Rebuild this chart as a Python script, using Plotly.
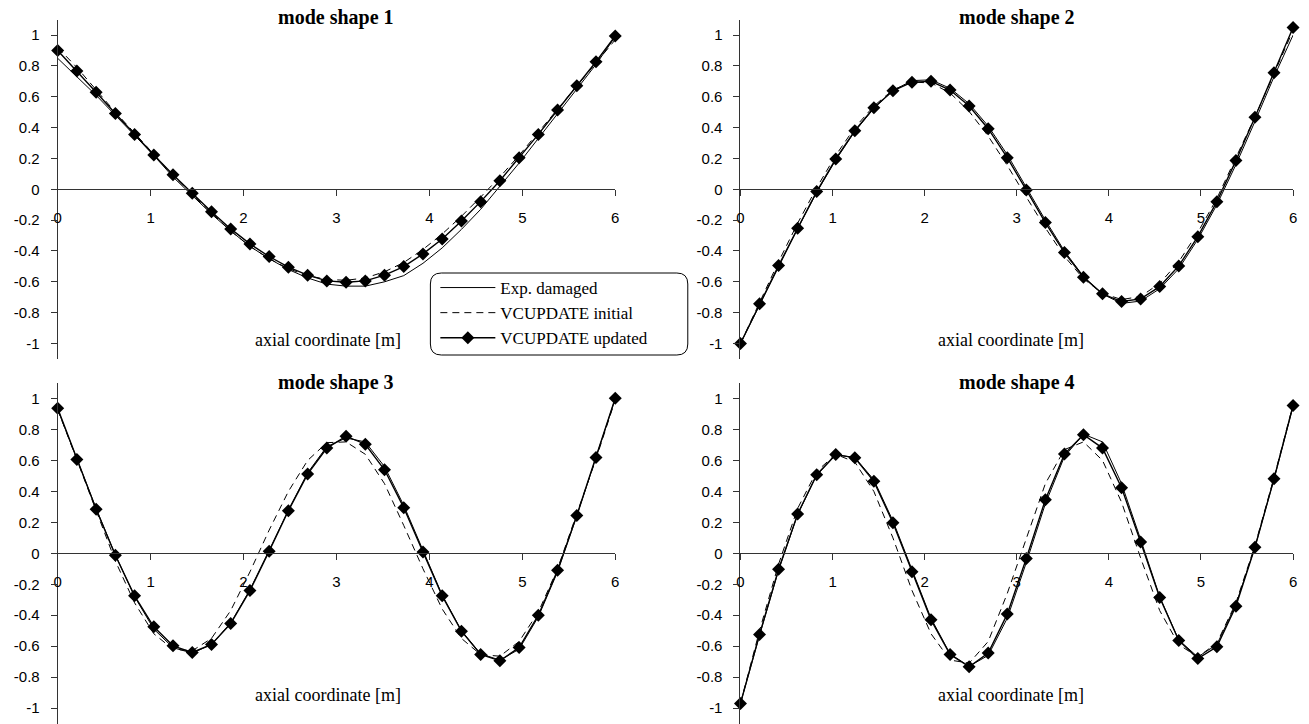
import numpy as np
import plotly.graph_objects as go

W, H = 1309, 724

x = list(np.linspace(0, 6, 30))

# mode shape 1
exp1 = [0.85, 0.73, 0.61, 0.48, 0.35, 0.22, 0.08, -0.04, -0.16, -0.27, -0.37, -0.45, -0.52, -0.575, -0.615,
        -0.628, -0.628, -0.60, -0.56, -0.48, -0.38, -0.26, -0.13, 0.02, 0.17, 0.33, 0.49, 0.65, 0.81, 0.99]
ini1 = [0.92, 0.79, 0.645, 0.50, 0.365, 0.225, 0.09, -0.035, -0.155, -0.27, -0.37, -0.45, -0.515, -0.56, -0.585,
        -0.59, -0.575, -0.535, -0.475, -0.39, -0.29, -0.175, -0.05, 0.08, 0.22, 0.37, 0.52, 0.67, 0.82, 0.97]
upd1 = [0.90, 0.767, 0.629, 0.492, 0.356, 0.222, 0.095, -0.026, -0.145, -0.257, -0.354, -0.436, -0.505, -0.557, -0.594,
        -0.603, -0.594, -0.557, -0.501, -0.419, -0.322, -0.205, -0.080, 0.056, 0.205, 0.356, 0.514, 0.672, 0.827, 0.994]

# mode shape 2
exp2 = [-1.00, -0.75, -0.50, -0.255, -0.02, 0.19, 0.375, 0.525, 0.64, 0.705, 0.71, 0.655, 0.555, 0.41, 0.225,
        0.01, -0.20, -0.40, -0.565, -0.68, -0.74, -0.725, -0.645, -0.515, -0.325, -0.10, 0.16, 0.44, 0.73, 1.00]
ini2 = [-1.00, -0.73, -0.47, -0.22, 0.01, 0.22, 0.40, 0.54, 0.645, 0.695, 0.69, 0.625, 0.505, 0.345, 0.155,
        -0.05, -0.25, -0.435, -0.58, -0.675, -0.715, -0.695, -0.61, -0.47, -0.28, -0.06, 0.20, 0.47, 0.75, 1.03]
upd2 = [-1.00, -0.743, -0.495, -0.253, -0.015, 0.197, 0.380, 0.529, 0.639, 0.695, 0.700, 0.644, 0.540, 0.393, 0.205,
        -0.004, -0.216, -0.410, -0.570, -0.678, -0.728, -0.711, -0.631, -0.497, -0.307, -0.080, 0.186, 0.467, 0.756, 1.050]

# mode shape 3
exp3 = [0.93, 0.61, 0.29, -0.01, -0.28, -0.49, -0.61, -0.645, -0.59, -0.45, -0.235, 0.02, 0.28, 0.52, 0.69,
        0.745, 0.72, 0.56, 0.31, 0.02, -0.27, -0.50, -0.65, -0.69, -0.62, -0.41, -0.12, 0.24, 0.62, 1.00]
ini3 = [0.93, 0.60, 0.27, -0.05, -0.32, -0.52, -0.62, -0.63, -0.55, -0.37, -0.12, 0.15, 0.40, 0.60, 0.715,
        0.72, 0.64, 0.45, 0.18, -0.10, -0.36, -0.55, -0.655, -0.665, -0.57, -0.38, -0.10, 0.25, 0.61, 0.99]
upd3 = [0.938, 0.606, 0.284, -0.013, -0.275, -0.475, -0.598, -0.641, -0.589, -0.454, -0.241, 0.013, 0.275, 0.512, 0.680,
        0.757, 0.705, 0.540, 0.295, 0.009, -0.275, -0.503, -0.654, -0.695, -0.609, -0.400, -0.110, 0.245, 0.619, 1.002]

# mode shape 4
exp4 = [-0.97, -0.53, -0.11, 0.25, 0.505, 0.635, 0.62, 0.475, 0.21, -0.11, -0.42, -0.65, -0.73, -0.66, -0.42,
        -0.06, 0.32, 0.625, 0.77, 0.72, 0.45, 0.09, -0.28, -0.56, -0.67, -0.59, -0.33, 0.04, 0.48, 0.95]
ini4 = [-0.97, -0.50, -0.07, 0.29, 0.53, 0.64, 0.59, 0.40, 0.10, -0.24, -0.52, -0.69, -0.71, -0.57, -0.26,
        0.10, 0.45, 0.67, 0.72, 0.60, 0.33, -0.03, -0.37, -0.59, -0.67, -0.58, -0.32, 0.05, 0.49, 0.96]
upd4 = [-0.970, -0.525, -0.103, 0.254, 0.508, 0.639, 0.617, 0.465, 0.198, -0.120, -0.430, -0.654, -0.733, -0.645, -0.393,
        -0.034, 0.346, 0.641, 0.766, 0.680, 0.424, 0.073, -0.286, -0.563, -0.680, -0.604, -0.342, 0.039, 0.482, 0.955]

titles = ["mode shape 1", "mode shape 2", "mode shape 3", "mode shape 4"]
series_names = ["Exp. damaged", "VCUPDATE initial", "VCUPDATE updated"]
xticks = [0, 1, 2, 3, 4, 5, 6]
yticks = [-1, -0.8, -0.6, -0.4, -0.2, 0, 0.2, 0.4, 0.6, 0.8, 1]
yticktext = ["-1", "-0.8", "-0.6", "-0.4", "-0.2", "0", "0.2", "0.4", "0.6", "0.8", "1"]
xlabel = "axial coordinate [m]"

data = [(exp1, ini1, upd1), (exp2, ini2, upd2), (exp3, ini3, upd3), (exp4, ini4, upd4)]

# pixel geometry
xdom_px = [(54, 615), (741, 1297), (54, 615), (741, 1297)]
ydom_px = [(19.7, 358.9), (19.7, 358.9), (383.1, 723.5), (383.1, 723.5)]

fig = go.Figure()
layout = {}
annotations = []
sans = "Liberation Sans, Arial, sans-serif"
serif = "Liberation Serif, Times New Roman, serif"
axcol = "#333333"

for k in range(4):
    ax = "" if k == 0 else str(k + 1)
    xd = [xdom_px[k][0] / W, xdom_px[k][1] / W]
    yd = [1 - ydom_px[k][1] / H, 1 - ydom_px[k][0] / H]
    layout["xaxis" + ax] = dict(
        domain=xd, range=[0, 6], anchor="free", position=(yd[0] + yd[1]) / 2,
        showline=True, linecolor=axcol, linewidth=1, ticks="outside", ticklen=6,
        tickcolor=axcol, tickvals=xticks, ticktext=[str(t) for t in xticks],
        tickfont=dict(family=sans, size=15, color="black"), showgrid=False,
        zeroline=False, ticklabelstandoff=9, fixedrange=True)
    layout["yaxis" + ax] = dict(
        domain=yd, range=[-1.1, 1.1], anchor="x" + ax, showline=True, linecolor=axcol,
        linewidth=1, ticks="outside", ticklen=6, tickcolor=axcol, tickvals=yticks,
        ticktext=yticktext, tickfont=dict(family=sans, size=15, color="black"),
        showgrid=False, zeroline=False, ticklabelstandoff=8, fixedrange=True)
    e, i, u = data[k]
    show = (k == 0)
    fig.add_trace(go.Scatter(x=x, y=e, mode="lines", name=series_names[0],
                             line=dict(color="black", width=1), showlegend=show,
                             xaxis="x" + ax, yaxis="y" + ax, cliponaxis=False))
    fig.add_trace(go.Scatter(x=x, y=i, mode="lines", name=series_names[1],
                             line=dict(color="black", width=1, dash="7px,5px"), showlegend=show,
                             xaxis="x" + ax, yaxis="y" + ax, cliponaxis=False))
    fig.add_trace(go.Scatter(x=x, y=u, mode="lines+markers", name=series_names[2],
                             line=dict(color="black", width=1.4),
                             marker=dict(symbol="diamond", size=10, color="black"),
                             showlegend=show, xaxis="x" + ax, yaxis="y" + ax, cliponaxis=False))
    cx = (xdom_px[k][0] + xdom_px[k][1]) / 2 / W
    ty = 18 if k < 2 else 382
    annotations.append(dict(text="<b>" + titles[k] + "</b>", x=cx, y=1 - ty / H, xref="paper", yref="paper",
                            xanchor="center", yanchor="middle", showarrow=False,
                            font=dict(family=serif, size=20, color="black")))
    lx = 326 if k % 2 == 0 else 1013
    ly = 340 if k < 2 else 695
    annotations.append(dict(text=xlabel, x=lx / W, y=1 - ly / H, xref="paper", yref="paper",
                            xanchor="center", yanchor="middle", showarrow=False,
                            font=dict(family=serif, size=18, color="black")))

# rounded legend box
x0, x1 = 429 / W, 688 / W
y0, y1 = 1 - 355 / H, 1 - 273 / H
rx, ry = 11 / W, 11 / H
path = (f"M {x0+rx},{y1} L {x1-rx},{y1} Q {x1},{y1} {x1},{y1-ry} "
        f"L {x1},{y0+ry} Q {x1},{y0} {x1-rx},{y0} L {x0+rx},{y0} "
        f"Q {x0},{y0} {x0},{y0+ry} L {x0},{y1-ry} Q {x0},{y1} {x0+rx},{y1} Z")

fig.update_layout(
    **layout,
    annotations=annotations,
    shapes=[dict(type="path", path=path, xref="paper", yref="paper",
                 line=dict(color="black", width=1), fillcolor="white", layer="above")],
    width=W, height=H,
    margin=dict(l=0, r=0, t=0, b=0),
    paper_bgcolor="white", plot_bgcolor="white",
    showlegend=True,
    legend=dict(x=434 / W, y=1 - 270 / H, xanchor="left", yanchor="top",
                bgcolor="rgba(0,0,0,0)", borderwidth=0, itemwidth=55,
                font=dict(family=serif, size=17, color="black"), tracegroupgap=0),
)

fig.write_html("out.html", config={"displayModeBar": False})
